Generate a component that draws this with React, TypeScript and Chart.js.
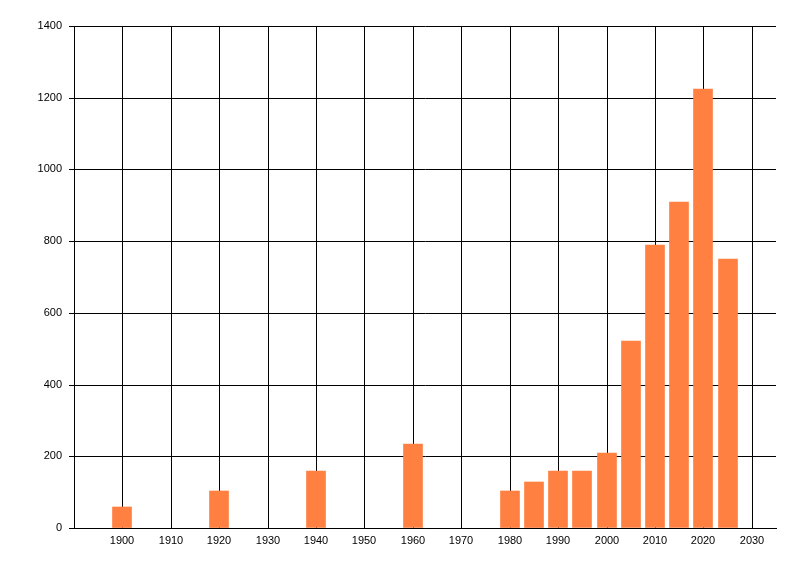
import React, { useEffect, useRef } from 'react';
import { Chart, registerables } from 'chart.js';

Chart.register(...registerables);

const years = [1900, 1920, 1940, 1960, 1980, 1985, 1990, 1995, 2000, 2005, 2010, 2015, 2020, 2025];
const counts = [59, 103, 159, 235, 103, 128, 159, 159, 209, 522, 790, 908, 1223, 749];
const xTickValues = [1900, 1910, 1920, 1930, 1940, 1950, 1960, 1970, 1980, 1990, 2000, 2010, 2020, 2030];
const yTickValues = [0, 200, 400, 600, 800, 1000, 1200, 1400];

const FONT = { family: '"Liberation Sans", Arial, sans-serif', size: 11 };

export default function App() {
  const ref = useRef<HTMLCanvasElement | null>(null);

  useEffect(() => {
    const canvas = ref.current;
    if (!canvas) return;
    const chart = new Chart(canvas, {
      type: 'bar',
      data: {
        datasets: [
          {
            data: years.map((y, i) => ({ x: y, y: counts[i] })),
            backgroundColor: '#FF8040',
            borderWidth: 0,
            barThickness: 19,
          },
        ],
      },
      options: {
        responsive: false,
        animation: false,
        devicePixelRatio: 1,
        layout: { padding: { top: 26, right: 24, left: 0, bottom: 0 } },
        plugins: { legend: { display: false }, tooltip: { enabled: false } },
        scales: {
          x: {
            type: 'linear',
            min: 1890,
            max: 2035,
            offset: false,
            alignToPixels: true,
            grid: { color: '#000', lineWidth: 1, drawTicks: false, offset: false },
            border: { display: true, color: '#000', width: 1 },
            ticks: {
              color: '#000',
              font: FONT,
              padding: 6,
              maxRotation: 0,
              autoSkip: false,
              callback: (v: any) => String(v),
            },
            afterBuildTicks: (scale: any) => {
              scale.ticks = xTickValues.map((v) => ({ value: v }));
            },
            afterFit: (scale: any) => {
              scale.height = 48;
            },
          },
          y: {
            min: 0,
            max: 1400,
            alignToPixels: true,
            grid: { color: '#000', lineWidth: 1, drawTicks: true, tickLength: 5 },
            border: { display: true, color: '#000', width: 1 },
            ticks: {
              color: '#000',
              font: FONT,
              padding: 7,
              callback: (v: any) => String(v),
            },
            afterBuildTicks: (scale: any) => {
              scale.ticks = yTickValues.map((v) => ({ value: v }));
            },
            afterFit: (scale: any) => {
              scale.width = 74;
            },
          },
        },
      },
    });
    return () => chart.destroy();
  }, []);

  return (
    <div style={{ position: 'absolute', left: 0, top: 0, width: 800, height: 576, background: '#fff' }}>
      <canvas ref={ref} width={800} height={576} style={{ width: 800, height: 576 }} />
    </div>
  );
}
